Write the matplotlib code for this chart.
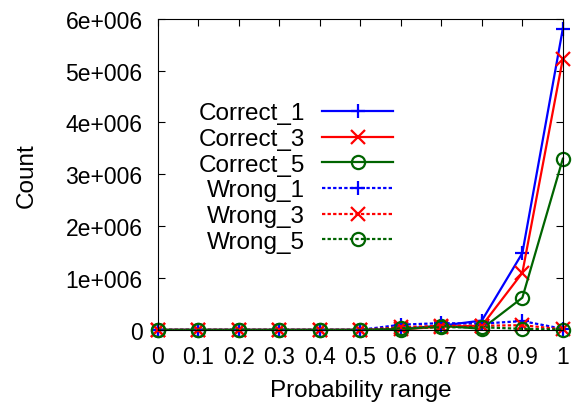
import numpy as np
import matplotlib.pyplot as plt

plt.rcParams['font.family'] = ['Liberation Sans', 'DejaVu Sans']

# probability range bins
x = [0, 0.1, 0.2, 0.3, 0.4, 0.5, 0.6, 0.7, 0.8, 0.9, 1.0]

correct_1 = [0, 0, 0, 0, 0, 0, 20000, 80000, 180000, 1480000, 5810000]
correct_3 = [0, 0, 0, 0, 0, 0, 10000, 60000, 80000, 1100000, 5230000]
correct_5 = [0, 0, 0, 0, 0, 0, 5000, 80000, 20000, 620000, 3300000]
wrong_1 = [0, 0, 0, 0, 0, 0, 100000, 130000, 120000, 170000, 20000]
wrong_3 = [0, 0, 0, 0, 0, 0, 50000, 80000, 80000, 90000, 10000]
wrong_5 = [0, 0, 0, 0, 0, 0, 30000, 50000, 50000, 20000, 5000]

yticks = [0, 1e6, 2e6, 3e6, 4e6, 5e6, 6e6]
ytick_labels = ['0', '1e+006', '2e+006', '3e+006', '4e+006', '5e+006', '6e+006']
xtick_labels = ['0', '0.1', '0.2', '0.3', '0.4', '0.5', '0.6', '0.7', '0.8', '0.9', '1']

fig = plt.figure(figsize=(5.72, 4.10), dpi=100)
ax = fig.add_axes([0.276, 0.193, 0.708, 0.759])

dotted = (0, (1.5, 1))
series = [
    (correct_1, 'Correct_1', 'blue', '+', '-'),
    (correct_3, 'Correct_3', 'red', 'x', '-'),
    (correct_5, 'Correct_5', '#006400', 'o', '-'),
    (wrong_1, 'Wrong_1', 'blue', '+', dotted),
    (wrong_3, 'Wrong_3', 'red', 'x', dotted),
    (wrong_5, 'Wrong_5', '#006400', 'o', dotted),
]
for ys, lab, col, mk, ls in series:
    ax.plot(x, ys, color=col, marker=mk, linestyle=ls, linewidth=1.6,
            markersize=9.5, markeredgewidth=1.6, markerfacecolor='none',
            label=lab, clip_on=False)

ax.set_xlim(0, 1)
ax.set_ylim(0, 6e6)
ax.set_xticks(x)
ax.set_xticklabels(xtick_labels)
ax.set_yticks(yticks)
ax.set_yticklabels(ytick_labels)
ax.tick_params(direction='in', top=True, right=True, labelsize=16.5, length=5, pad=11)
ax.set_xlabel('Probability range', fontsize=17.5, labelpad=8)
ax.set_ylabel('Count', fontsize=17.5, labelpad=20)

leg = ax.legend(loc='upper right', bbox_to_anchor=(0.61, 0.77), frameon=False,
                markerfirst=False, fontsize=17.5, handlelength=2.9,
                labelspacing=0.15, handletextpad=0.7, borderpad=0)

fig.savefig('out.png', dpi=100)
